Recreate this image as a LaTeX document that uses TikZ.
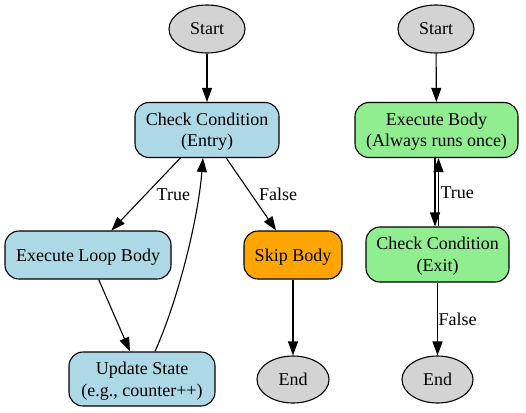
\documentclass[tikz,border=0pt]{standalone}
\usepackage{fontspec}
\setmainfont{Liberation Serif}
\usetikzlibrary{shapes.geometric,arrows.meta}

\definecolor{boxblue}{HTML}{ADD8E6}
\definecolor{boxgreen}{HTML}{90EE90}
\definecolor{boxorange}{HTML}{FFA500}
\definecolor{termgray}{HTML}{D3D3D3}

\begin{document}
\begin{tikzpicture}[x=1pt,y=-1pt,
	step box/.style={draw, line width=1.1pt, rounded corners=14pt, align=center, inner sep=0pt, text depth=0pt, font=\fontsize{18}{21.5}\selectfont},
	term/.style={draw, ellipse, fill=termgray, line width=1.1pt, inner sep=0pt, text depth=-1.5pt, minimum width=76pt, minimum height=48pt, font=\fontsize{18}{21.5}\selectfont},
	flow/.style={line width=1.1pt, -{Triangle[length=14pt,width=10pt]}},
	lbl/.style={font=\fontsize{18}{21.5}\selectfont}]
	\useasboundingbox (0,0) rectangle (526,412);

	% while loop (entry check)
	\node[term] (wStart) at (207,29) {Start};
	\node[step box, fill=boxblue, minimum width=144pt, minimum height=55pt] (wCheck) at (207,130) {Check Condition\\(Entry)};
	\node[step box, fill=boxblue, minimum width=166pt, minimum height=48pt] (wBody) at (88,255) {Execute Loop Body};
	\node[step box, fill=boxblue, minimum width=146pt, minimum height=54pt] (wUpdate) at (142,379) {Update State\\(e.g., counter++)};
	\node[step box, fill=boxorange, minimum width=98pt, minimum height=48pt] (wSkip) at (293,255) {Skip Body};
	\node[term, minimum width=72pt, minimum height=47pt] (wEnd) at (293,379.5) {End};

	\draw[flow] (wStart) -- (wCheck);
	\draw[flow] (wCheck) -- node[lbl, midway, right=7pt] {True} (wBody);
	\draw[flow] (wCheck) -- node[lbl, midway, right=4pt] {False} (wSkip);
	\draw[flow] (wBody) -- (wUpdate);
	\draw[flow] ([xshift=13pt]wUpdate.north) .. controls (178,300) and (198,220) .. ([xshift=-4pt]wCheck.south);
	\draw[flow] (wSkip) -- (wEnd);

	% do-while loop (exit check)
	\node[term] (dStart) at (436,29) {Start};
	\node[step box, fill=boxgreen, minimum width=163pt, minimum height=55pt] (dBody) at (436.5,130) {Execute Body\\(Always runs once)};
	\node[step box, fill=boxgreen, minimum width=143pt, minimum height=55pt] (dCheck) at (437.5,254.5) {Check Condition\\(Exit)};
	\node[term, minimum width=71pt, minimum height=47pt] (dEnd) at (437.5,379.5) {End};

	\draw[flow] (dStart) -- (dBody);
	\draw[flow] ([xshift=-1.5pt]dBody.south) -- ([xshift=-2.5pt]dCheck.north);
	\draw[flow] ([xshift=1pt]dCheck.north) -- node[lbl, midway, right, inner sep=1.5pt] {True} ([xshift=2pt]dBody.south);
	\draw[flow] (dCheck) -- node[lbl, midway, right, inner sep=0.5pt] {False} (dEnd);
\end{tikzpicture}
\end{document}
